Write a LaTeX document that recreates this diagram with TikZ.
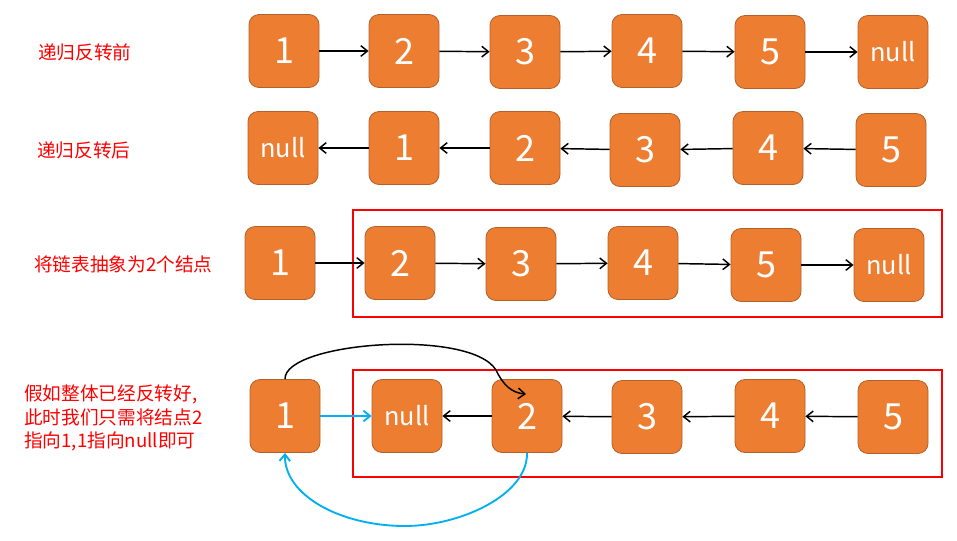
\documentclass[tikz,border=0pt]{standalone}
\usepackage{fontspec}
\setmainfont{Noto Sans CJK SC}
\newfontfamily\cjk{Noto Sans CJK SC}
\usetikzlibrary{arrows.meta}
\definecolor{boxfill}{HTML}{ED7D31}
\definecolor{boxline}{HTML}{B2612A}
\definecolor{linkblue}{HTML}{00B0F0}
\definecolor{labred}{HTML}{FF0000}
\tikzset{
  lnode/.style={draw=boxline, line width=0.6pt, fill=boxfill, rounded corners=7.5pt,
    minimum width=52.5pt, minimum height=54.75pt, inner sep=0pt, text=white,
    font=\cjk\fontsize{27}{30}\selectfont},
  nnode/.style={lnode, font=\cjk\fontsize{19}{22}\selectfont},
  lnk/.style={draw=black, line width=1.1pt, -{Straight Barb[length=5pt,width=8pt]}},
  blnk/.style={draw=linkblue, line width=1.4pt, -{Straight Barb[length=5pt,width=8pt]}},
  redbox/.style={draw=labred, line width=1.6pt},
  lab/.style={text=labred, font=\cjk\fontsize{14}{17.6}\selectfont, inner sep=0pt}
}
\begin{document}
\begin{tikzpicture}[x=0.75pt,y=-0.75pt]
\useasboundingbox (0,0) rectangle (957,540);
% labels
\node[lab, anchor=west] (t1) at (38,52) {递归反转前};
\node[lab, anchor=west] (t2) at (37,150) {递归反转后};
\node[lab, anchor=west] (t3) at (34,264) {将链表抽象为2个结点};
\node[lab, anchor=west, align=left] (t4) at (24,418) {假如整体已经反转好,\\此时我们只需将结点2\\指向1,1指向null即可};
% row 1
\node[lnode] (a1) at (284,51) {1};
\node[lnode] (a2) at (404,51) {2};
\node[lnode] (a3) at (525,52) {3};
\node[lnode] (a4) at (647,51) {4};
\node[lnode] (a5) at (770,52) {5};
\node[nnode] (a6) at (893,52) {null};
\draw[lnk] (a1) -- (a2);
\draw[lnk] (a2) -- (a3);
\draw[lnk] (a3) -- (a4);
\draw[lnk] (a4) -- (a5);
\draw[lnk] (a5) -- (a6);
% row 2
\node[nnode] (b0) at (283,148) {null};
\node[lnode] (b1) at (404,148) {1};
\node[lnode] (b2) at (525,148) {2};
\node[lnode] (b3) at (645,150) {3};
\node[lnode] (b4) at (768,148) {4};
\node[lnode] (b5) at (891,150) {5};
\draw[lnk] (b1) -- (b0);
\draw[lnk] (b2) -- (b1);
\draw[lnk] (b3) -- (b2);
\draw[lnk] (b4) -- (b3);
\draw[lnk] (b5) -- (b4);
% row 3
\draw[redbox] (353,210) rectangle (942,317);
\node[lnode] (c1) at (280,263) {1};
\node[lnode] (c2) at (400,263) {2};
\node[lnode] (c3) at (521,264) {3};
\node[lnode] (c4) at (643,263) {4};
\node[lnode] (c5) at (766,265) {5};
\node[nnode] (c6) at (889,265) {null};
\draw[lnk] (c1) -- (c2);
\draw[lnk] (c2) -- (c3);
\draw[lnk] (c3) -- (c4);
\draw[lnk] (c4) -- (c5);
\draw[lnk] (c5) -- (c6);
% row 4
\draw[redbox] (353,370) rectangle (942,477);
\node[lnode] (d1) at (285,416) {1};
\node[nnode] (d0) at (407,416) {null};
\node[lnode] (d2) at (527,416) {2};
\node[lnode] (d3) at (647,417) {3};
\node[lnode] (d4) at (770,416) {4};
\node[lnode] (d5) at (893,417) {5};
\draw[lnk] (d2) -- (d0);
\draw[lnk] (d3) -- (d2);
\draw[lnk] (d4) -- (d3);
\draw[lnk] (d5) -- (d4);
\draw[blnk] (d1) -- (d0);
\coordinate (tip) at (526,394);
\draw[lnk] (d1.north) .. controls (284,342) and (470,328) .. (496,370)
  .. controls (503,385) and (512,393) .. (tip);
\draw[blnk] (d2.south) .. controls (528,495) and (460,526) .. (405,526)
  .. controls (340,526) and (284,495) .. (d1.south);
\end{tikzpicture}
\end{document}
